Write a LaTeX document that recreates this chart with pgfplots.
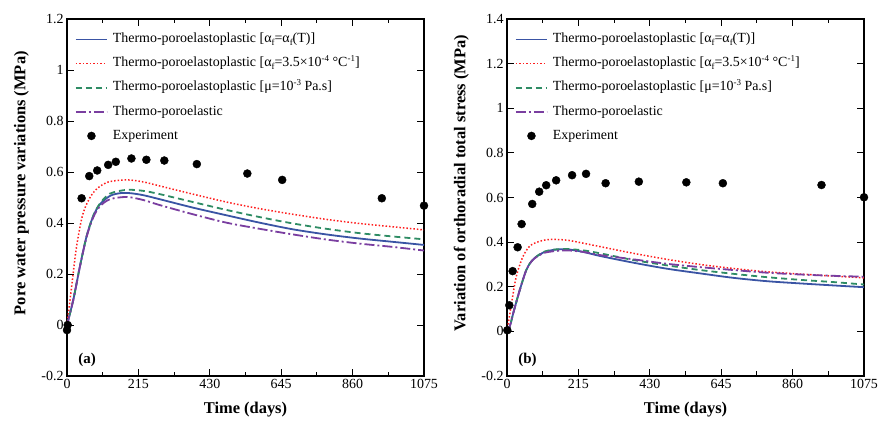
\documentclass[border=0pt]{standalone}
\usepackage{fontspec}
\setmainfont{Liberation Serif}
\usepackage{pgfplots}
\pgfplotsset{compat=1.18}
\newcommand{\lsub}[1]{\raisebox{-0.35ex}{\fontsize{9}{9}\selectfont #1}}
\newcommand{\lsup}[1]{\raisebox{0.85ex}{\fontsize{9}{9}\selectfont #1}}
\definecolor{colA}{RGB}{58,84,164}
\definecolor{colB}{RGB}{255,30,30}
\definecolor{colC}{RGB}{46,140,100}
\definecolor{colD}{RGB}{122,62,160}
\tikzset{
  lineA/.style={color=colA, line width=1.8bp, solid},
  lineB/.style={color=colB, line width=1.5bp, dotted},
  lineC/.style={color=colC, line width=1.8bp, dash pattern=on 6bp off 4bp},
  lineD/.style={color=colD, line width=1.8bp, dash pattern=on 10bp off 3bp on 2bp off 3bp},
}
\pgfplotsset{
  myax/.style={
    width=357bp, height=357bp, scale only axis,
    xmin=0, xmax=1075, xtick={0,215,430,645,860,1075}, minor x tick num=1,
    scaled ticks=false,
    /pgf/number format/1000 sep={},
    /pgf/number format/assume math mode=true,
    tick align=inside, major tick length=7bp, minor tick length=4.5bp,
    tick style={black, line width=0.9bp},
    axis line style={line width=1.1bp},
    ticklabel style={font=\fontsize{14}{14}\selectfont},
    label style={font=\bfseries\fontsize{16.5}{16.5}\selectfont},
    xlabel={Time (days)},
    xlabel style={at={(axis description cs:0.5,-0.095)}, anchor=center},
    ylabel style={at={(axis description cs:-0.128,0.54)}, anchor=center, rotate=0},
    clip=false,
    legend cell align=left,
    legend style={at={(axis description cs:0.022,0.962)}, anchor=north west, draw=none, fill=none,
      inner sep=0bp, column sep=5bp, row sep=10.6bp, font=\fontsize{14}{14}\selectfont,
      nodes={text height=10bp, text depth=3.5bp, inner sep=0bp}},
  },
  sexp/.style={only marks, mark=*, mark size=4bp, black, mark options={fill=black}},
  legA/.style={legend image code/.code={\draw[opacity=0] (0bp,0bp) -- (1bp,0bp); \draw[lineA] (0bp,0bp) -- (31bp,0bp); \draw[lineA] (0bp,0bp) -- (31bp,0bp);}},
  legB/.style={legend image code/.code={\draw[opacity=0] (0bp,0bp) -- (1bp,0bp); \draw[lineB] (0bp,0bp) -- (31bp,0bp); \draw[lineB] (0bp,0bp) -- (31bp,0bp);}},
  legC/.style={legend image code/.code={\draw[opacity=0] (0bp,0bp) -- (1bp,0bp); \draw[lineC] (0bp,0bp) -- (31bp,0bp); \draw[lineC] (0bp,0bp) -- (31bp,0bp);}},
  legD/.style={legend image code/.code={\draw[opacity=0] (0bp,0bp) -- (1bp,0bp); \draw[lineD] (0bp,0bp) -- (31bp,0bp); \draw[lineD] (0bp,0bp) -- (31bp,0bp);}},
  legE/.style={legend image code/.code={\fill[black] (15.5bp,0bp) circle[radius=4bp];}},
}
\newcommand{\mylegend}{%
\addlegendimage{legA}
\addlegendentry{Thermo-poroelastoplastic [α\lsub{f}=α\lsub{f}(T)]}
\addlegendimage{legB}
\addlegendentry{Thermo-poroelastoplastic [α\lsub{f}=3.5×10\lsup{-4} °C\lsup{-1}]}
\addlegendimage{legC}
\addlegendentry{Thermo-poroelastoplastic [μ=10\lsup{-3} Pa.s]}
\addlegendimage{legD}
\addlegendentry{Thermo-poroelastic}
\addlegendimage{legE}
\addlegendentry{Experiment}}
\begin{document}
\begin{tikzpicture}
\path[use as bounding box] (-67bp,-47bp) rectangle (813bp,376bp);
\begin{axis}[myax, ymin=-0.2, ymax=1.2, ytick={-0.2,0,0.2,0.4,0.6,0.8,1,1.2},
  ylabel={Pore water pressure variations (MPa)}]
\mylegend
\addplot[lineA, smooth, tension=0.5, forget plot] coordinates {(0,0) (19,0.099) (39,0.23) (59,0.348) (79,0.427) (99,0.473) (129,0.506) (160,0.517) (190,0.517) (230,0.509) (280,0.493) (380,0.460) (481,0.430) (581,0.401) (681,0.375) (782,0.355) (882,0.339) (982,0.326) (1075,0.314)};
\addplot[lineB, smooth, tension=0.5, forget plot] coordinates {(0,0) (14,0.151) (29,0.309) (49,0.44) (79,0.519) (120,0.559) (180,0.569) (230,0.561) (280,0.545) (380,0.513) (481,0.482) (581,0.456) (681,0.434) (782,0.414) (882,0.398) (982,0.385) (1075,0.373)};
\addplot[lineC, smooth, tension=0.5, forget plot] coordinates {(0,0) (19,0.099) (39,0.23) (59,0.348) (79,0.428) (99,0.476) (129,0.515) (180,0.530) (230,0.526) (280,0.513) (380,0.482) (481,0.451) (581,0.423) (681,0.398) (782,0.377) (882,0.360) (982,0.347) (1075,0.336)};
\addplot[lineD, smooth, tension=0.5, forget plot] coordinates {(0,0) (19,0.099) (39,0.23) (59,0.345) (79,0.422) (99,0.465) (129,0.493) (180,0.502) (230,0.490) (280,0.470) (380,0.434) (481,0.401) (581,0.377) (681,0.355) (782,0.335) (882,0.319) (982,0.306) (1075,0.292)};
\addplot[sexp, forget plot] coordinates {(0,-0.02) (2,0.0) (44,0.497) (67,0.584) (91,0.606) (124,0.628) (147,0.640) (194,0.653) (239,0.648) (293,0.645) (391,0.631) (543,0.594) (648,0.569) (948,0.497) (1075,0.468)};
\node[anchor=base west, font=\bfseries\fontsize{15}{15}\selectfont] at (rel axis cs:0.022,0.036) {(a)};
\end{axis}
\begin{axis}[myax, xshift=440bp, ymin=-0.2, ymax=1.4, ytick={-0.2,0,0.2,0.4,0.6,0.8,1,1.2,1.4},
  ylabel={Variation of orthoradial total stress (MPa)}]
\mylegend
\addplot[lineA, smooth, tension=0.5, forget plot] coordinates {(0,0) (10,0.03) (19,0.083) (39,0.188) (59,0.278) (79,0.323) (109,0.353) (139,0.365) (180,0.368) (230,0.356) (280,0.338) (380,0.308) (481,0.281) (581,0.260) (681,0.240) (782,0.225) (882,0.215) (982,0.206) (1075,0.198)};
\addplot[lineB, smooth, tension=0.5, forget plot] coordinates {(0,0) (14,0.128) (24,0.218) (34,0.278) (49,0.338) (69,0.383) (99,0.404) (129,0.412) (180,0.409) (230,0.395) (280,0.380) (380,0.350) (481,0.323) (581,0.300) (681,0.282) (782,0.267) (882,0.257) (982,0.248) (1075,0.240)};
\addplot[lineC, smooth, tension=0.5, forget plot] coordinates {(0,0) (10,0.03) (19,0.083) (39,0.188) (59,0.278) (79,0.323) (109,0.355) (139,0.366) (180,0.369) (230,0.363) (280,0.350) (380,0.320) (481,0.296) (581,0.275) (681,0.258) (782,0.243) (882,0.231) (982,0.221) (1075,0.210)};
\addplot[lineD, smooth, tension=0.5, forget plot] coordinates {(0,0) (10,0.03) (19,0.083) (39,0.188) (59,0.278) (79,0.322) (109,0.350) (139,0.359) (180,0.363) (230,0.356) (280,0.342) (380,0.323) (481,0.303) (581,0.288) (681,0.275) (782,0.263) (882,0.255) (982,0.249) (1075,0.245)};
\addplot[sexp, forget plot] coordinates {(1,0.005) (7,0.117) (17,0.270) (32,0.377) (44,0.481) (76,0.571) (97,0.626) (118,0.655) (148,0.677) (196,0.700) (238,0.706) (297,0.664) (397,0.671) (540,0.668) (650,0.664) (947,0.656) (1075,0.601)};
\node[anchor=base west, font=\bfseries\fontsize{15}{15}\selectfont] at (rel axis cs:0.022,0.036) {(b)};
\end{axis}
\end{tikzpicture}
\end{document}
